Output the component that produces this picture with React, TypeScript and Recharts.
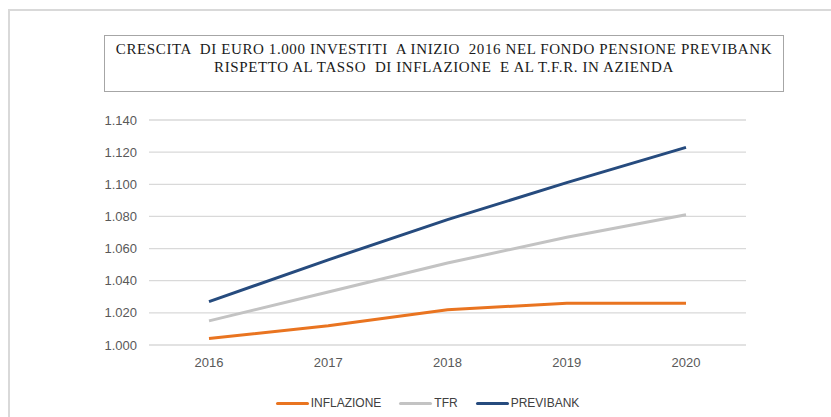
import { LineChart, Line, XAxis, YAxis, CartesianGrid, Legend } from "recharts"

const years = ["2016", "2017", "2018", "2019", "2020"]
const inflazione = [1004, 1012, 1022, 1026, 1026]
const tfr = [1015, 1033, 1051, 1067, 1081]
const previbank = [1027, 1053, 1078, 1101, 1123]
const yTicks = [1000, 1020, 1040, 1060, 1080, 1100, 1120, 1140]

const series = [
  { key: "inflazione", name: "INFLAZIONE", color: "#E97420" },
  { key: "tfr", name: "TFR", color: "#C3C3C3" },
  { key: "previbank", name: "PREVIBANK", color: "#264B7E" },
]

const data = years.map((year, i) => ({ year, inflazione: inflazione[i], tfr: tfr[i], previbank: previbank[i] }))

const fmt = (v: number) => {
  const s = String(Math.round(v))
  return s.length > 3 ? s.slice(0, -3) + "." + s.slice(-3) : s
}

const tick = { fontSize: 13, fill: "#595959", fontFamily: "'Liberation Sans', Arial, sans-serif" }

function LegendRow() {
  return (
    <div style={{ display: "flex", justifyContent: "center", alignItems: "center", fontFamily: "'Liberation Sans', Arial, sans-serif", fontSize: 12, color: "#404040" }}>
      {series.map((s, i) => (
        <div key={s.key} style={{ display: "flex", alignItems: "center", marginLeft: i ? 18 : 0 }}>
          <span style={{ display: "inline-block", width: 33, height: 3, borderRadius: 2, background: s.color, marginRight: 2 }} />
          <span>{s.name}</span>
        </div>
      ))}
    </div>
  )
}

export default function App() {
  return (
    <div style={{ position: "absolute", left: 0, top: 0, width: 831, height: 417, overflow: "hidden", background: "#fff" }}>
      <div style={{ position: "absolute", left: 8, top: 9, width: 900, height: 500, borderLeft: "2px solid #D9D9D9", borderTop: "2px solid #D9D9D9" }} />
      <LineChart width={831} height={417} data={data} margin={{ top: 120, right: 85, bottom: 42, left: 0 }}>
        <CartesianGrid vertical={false} stroke="#D9D9D9" strokeWidth={1.3} />
        <XAxis dataKey="year" tick={tick} tickLine={false} axisLine={false} padding={{ left: 60, right: 60 }} tickMargin={7} />
        <YAxis width={149} domain={[1000, 1140]} ticks={yTicks} tickFormatter={fmt} tick={tick} tickLine={false} axisLine={false} tickMargin={6} />
        <Legend content={LegendRow} verticalAlign="middle" align="center" wrapperStyle={{ left: 12, width: 831, top: 396 }} />
        {series.map((s) => (
          <Line key={s.key} dataKey={s.key} name={s.name} stroke={s.color} strokeWidth={3} dot={false} isAnimationActive={false} />
        ))}
      </LineChart>
      <div style={{ position: "absolute", left: 104, top: 35, width: 678, height: 51, border: "1px solid #A6A6A6", fontFamily: "'Liberation Serif', 'Times New Roman', serif", fontSize: 15, letterSpacing: 0.6, color: "#1a1a1a", textAlign: "center", whiteSpace: "pre", lineHeight: "18px", paddingTop: 4, boxSizing: "content-box" }}>
        {"CRESCITA  DI EURO 1.000 INVESTITI  A INIZIO  2016 NEL FONDO PENSIONE PREVIBANK\nRISPETTO AL TASSO  DI INFLAZIONE  E AL T.F.R. IN AZIENDA"}
      </div>
    </div>
  )
}
